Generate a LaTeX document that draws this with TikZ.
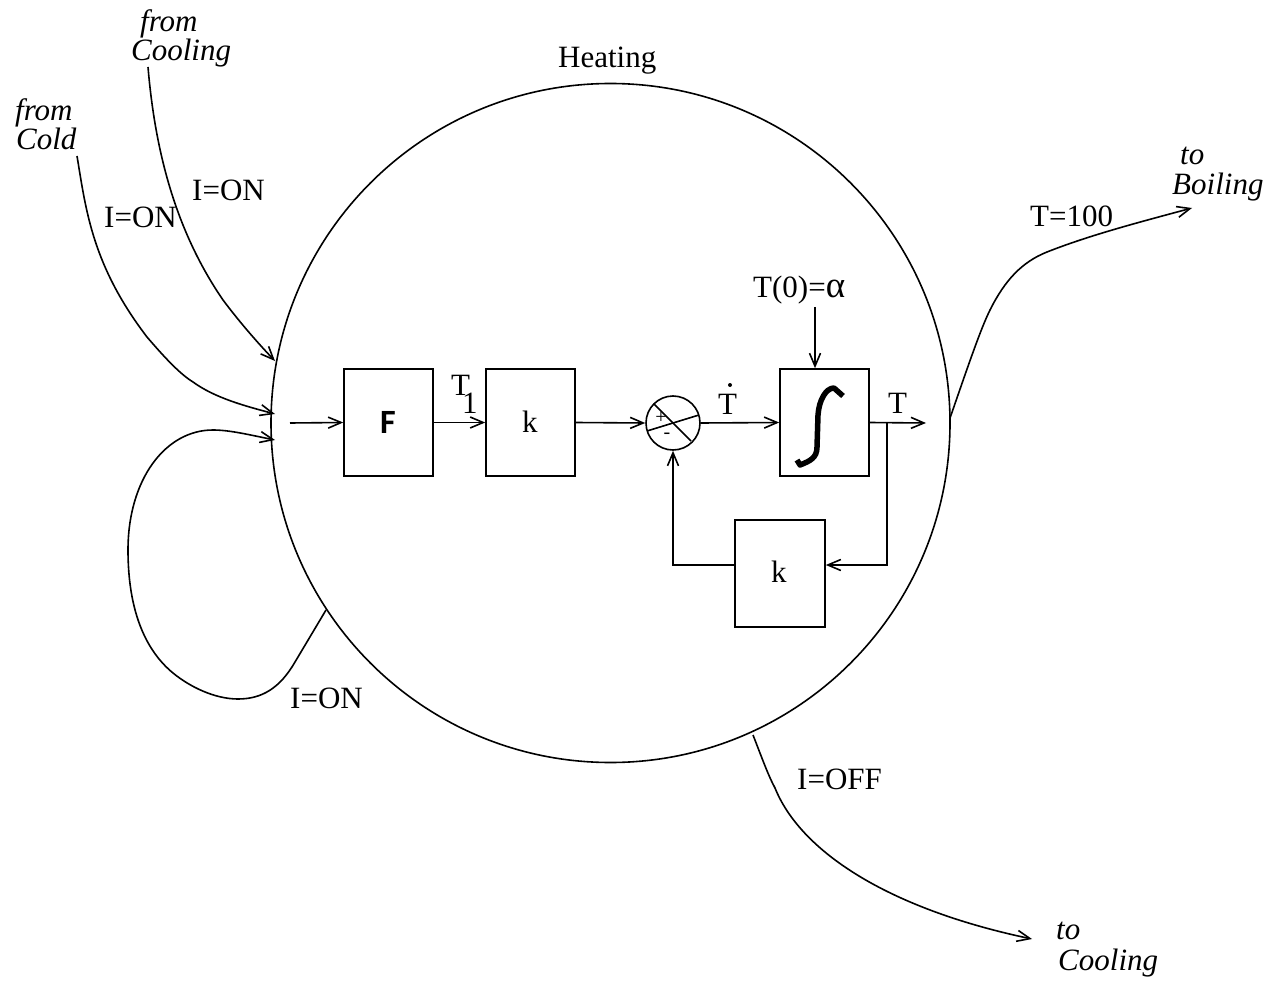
\documentclass[tikz,border=0pt]{standalone}
\usepackage{fontspec}
\setmainfont{Liberation Serif}
\newfontfamily\fsans{Carlito}
\usetikzlibrary{arrows.meta}
\tikzset{
  wire/.style={line width=1.6pt},
  arr/.style={wire,-{Straight Barb[length=13pt,width=11pt,line width=1.6pt]}},
  blockbox/.style={draw,line width=1.6pt,minimum width=#1,minimum height=107pt,inner sep=0pt},
  lab/.style={anchor=base west,inner sep=0pt,font=\fontsize{31}{31}\selectfont},
  ilab/.style={lab,font=\fontsize{31}{31}\selectfont\itshape}
}
\begin{document}
\begin{tikzpicture}[x=1pt,y=-1pt]
\useasboundingbox (0,0) rectangle (1276,981);
% state circle
\node[circle,draw,line width=1.6pt,minimum size=679pt,inner sep=0pt] (state) at (610.5,423) {};
% blocks
\node[blockbox=89pt] (fbox) at (388.5,422.5) {};
\node at (388,422) (flabel) {\fsans\bfseries\fontsize{34}{34}\selectfont F};
\node[blockbox=89pt] (kbox) at (530.5,422.5) {};
\node[blockbox=89pt] (intg) at (824.5,422.5) {};
\node[blockbox=90pt] (kback) at (780,573.5) {};
\node[circle,draw,line width=1.6pt,minimum size=54pt,inner sep=0pt] (sum) at (673,423) {};
% summer inner
\coordinate (sa) at (654,404); \coordinate (sb) at (691,441);
\coordinate (sc) at (647,431); \coordinate (sd) at (699,415);
\draw[wire] (sa) -- (sb);
\draw[wire] (sc) -- (sd);
\node[inner sep=0pt,font=\fontsize{20}{20}\selectfont] (plus) at (661,418) {+};
\node[inner sep=0pt,font=\fontsize{20}{20}\selectfont] (minus) at (667,436) {-};
% integral sign
\coordinate (i1) at (797,460); \coordinate (i2) at (843,396);
\draw[line width=5.5pt,line join=round] (i1) -- (800,465) .. controls (810,461) and (817,458) .. (817,447) -- (818,415) .. controls (819,400) and (826,388) .. (834,388) -- (i2);
% block-diagram connectors
\coordinate (in) at (290,423);
\coordinate (out) at (926,423);
\coordinate (junc) at (887,423);
\coordinate (tz) at (815,307);
\coordinate (kin) at (kback.east |- 0,565);
\coordinate (kout) at (kback.west |- 0,565);
\draw[arr] (in) -- (fbox.west);
\draw[arr] (fbox.east) -- (kbox.west);
\draw[arr] (kbox.east) -- (sum.west);
\draw[arr] (sum.east) -- (intg.west);
\draw[arr] (intg.east) -- (out);
\draw[arr] (tz) -- (tz |- intg.north);
\draw[arr] (junc) |- (kin);
\draw[arr] (kout) -| (sum.south);
% transitions
\coordinate (cold0) at (77,156); \coordinate (cold1) at (275,414);
\coordinate (cool0) at (148,67); \coordinate (cool1) at (275,361);
\coordinate (loop0) at (326,610); \coordinate (loop1) at (275,440);
\coordinate (boil0) at (950,418); \coordinate (boil1) at (1192,208);
\coordinate (tc0) at (753,735); \coordinate (tc1) at (1032,939);
\draw[arr] (cold0) .. controls (86,210) and (92,265) .. (147,337) .. controls (165,358) and (180,374) .. (193,382) .. controls (215,398) and (245,406) .. (cold1);
\draw[arr] (cool0) .. controls (155,150) and (175,230) .. (223,300) .. controls (238,320) and (255,340) .. (cool1);
\draw[arr] (loop0) -- (295,662) .. controls (280,688) and (262,699) .. (238,699) .. controls (215,699) and (190,687) .. (173,673) .. controls (145,650) and (128,610) .. (128,550) .. controls (128,480) and (165,430) .. (213,430) .. controls (230,430) and (250,435) .. (loop1);
\draw[arr] (boil0) .. controls (965,375) and (980,330) .. (990,310) .. controls (1005,280) and (1022,262) .. (1047,252) .. controls (1090,235) and (1140,222) .. (boil1);
\draw[arr] (tc0) .. controls (762,758) and (768,775) .. (775,788) .. controls (800,850) and (885,908) .. (tc1);
% labels
\node[lab] (lheat) at (558,68) {Heating};
\node[ilab] (lf1) at (140,32) {from};
\node[ilab] (lf2) at (131,61) {Cooling};
\node[ilab] (lf3) at (15,120.5) {from};
\node[ilab] (lf4) at (16,149.5) {Cold};
\node[lab] (l1) at (104,228) {I=ON};
\node[lab] (l2) at (192,201) {I=ON};
\node[lab] (l3) at (1030,227) {T=100};
\node[ilab] (lt1) at (1180,165) {to};
\node[ilab] (lt2) at (1172,195) {Boiling};
\node[lab] (l4) at (753,298) {T(0)={\fontsize{37}{37}\selectfont α}};
\node[lab] (lT1) at (451,395) {T};
\node[lab] (lT1b) at (462,413) {1};
\node[lab] (lkk) at (522,432) {k};
\node[lab] (lk2) at (771,582) {k};
\node[lab] (lTd) at (718,414) {T};
\node[inner sep=0pt,circle,fill,minimum size=4pt] (ldot) at (730,385) {};
\node[lab] (lT) at (888,413) {T};
\node[lab] (l5) at (290,708) {I=ON};
\node[lab] (l6) at (797,789) {I=OFF};
\node[ilab] (lt3) at (1056,939) {to};
\node[ilab] (lt4) at (1058,970) {Cooling};
\end{tikzpicture}
\end{document}
